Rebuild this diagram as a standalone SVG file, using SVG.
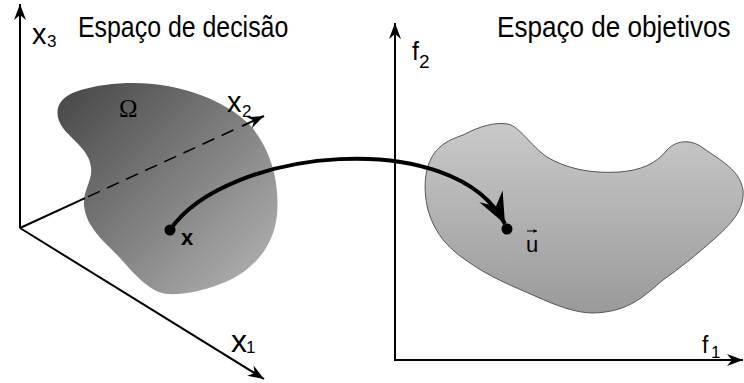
<svg xmlns="http://www.w3.org/2000/svg" width="744" height="383" viewBox="0 0 744 383">
  <defs>
    <linearGradient id="gLeft" gradientUnits="userSpaceOnUse" x1="70" y1="90" x2="270" y2="290">
      <stop offset="0" stop-color="#4a4a4a"/>
      <stop offset="1" stop-color="#b4b4b4"/>
    </linearGradient>
    <linearGradient id="gRight" gradientUnits="userSpaceOnUse" x1="0" y1="124" x2="0" y2="313">
      <stop offset="0" stop-color="#c9c9c9"/>
      <stop offset="1" stop-color="#9a9a9a"/>
    </linearGradient>
    <marker id="axisHead" markerUnits="userSpaceOnUse" markerWidth="24" markerHeight="16" viewBox="-18 -8 20 16" refX="0" refY="0" orient="auto" overflow="visible">
      <path d="M0,0 L-16,-6 L-11,0 L-16,6 Z" fill="#000"/>
    </marker>
    <marker id="mapHead" markerUnits="userSpaceOnUse" markerWidth="36" markerHeight="30" viewBox="-32 -15 34 30" refX="0" refY="0" orient="auto" overflow="visible">
      <path d="M0,0 L-31,-13 L-20,0 L-31,13 Z" fill="#000"/>
    </marker>
    <marker id="vecHead" markerUnits="userSpaceOnUse" markerWidth="6" markerHeight="6" viewBox="-4 -3 5 6" refX="0" refY="0" orient="auto" overflow="visible">
      <path d="M0,0 L-3.5,-2 L-3.5,2 Z" fill="#000"/>
    </marker>
    <style>
      .axis { stroke:#000; stroke-width:2; fill:none; }
      .dash { stroke:#000; stroke-width:1.5; fill:none; stroke-dasharray:13 8; }
      text { font-family:'Liberation Sans', Arial, sans-serif; fill:#000; }
    </style>
  </defs>

  <!-- Decision space blob -->
  <g id="omega">
    <path d="M133,83 C180,83 225,100 250,125 C270,148 280,180 277,215 C274,245 255,268 230,280 C205,291 185,295 167,294 C150,292 135,275 120,258 C105,242 86,228 84,205 C83,190 93,180 91,167 C89,150 72,140 63,128 C52,113 58,98 75,92 C95,85 115,83 133,83 Z" fill="url(#gLeft)"/>
    <text x="119" y="117" style="font-family:'Liberation Serif', 'Times New Roman', serif" font-size="25">Ω</text>
  </g>

  <!-- Objective space blob -->
  <g id="objective-region">
    <path d="M463,135 C480,126 495,122 508,124 C520,127 530,145 547,157 C565,168 590,174 620,172 C640,170 655,165 667,150 C675,141 690,138 703,148 C720,160 740,170 743,190 C745,210 730,225 713,240 C695,256 680,268 663,280 C645,295 630,312 593,313 C575,313 555,305 535,296 C510,285 490,277 470,263 C450,250 435,235 428,210 C422,185 425,160 440,147 C448,140 455,138 463,135 Z" fill="url(#gRight)" stroke="#555" stroke-width="1"/>
  </g>

  <!-- Axes -->
  <g id="decision-axes">
    <line class="axis" x1="20" y1="228" x2="20" y2="4" marker-end="url(#axisHead)"/>
    <line class="axis" x1="20" y1="228" x2="264" y2="379" marker-end="url(#axisHead)"/>
    <line class="axis" x1="20" y1="228" x2="85" y2="198.2"/>
    <line class="dash" x1="88" y1="196.8" x2="240" y2="127"/>
    <line class="axis" x1="242" y1="126.1" x2="264" y2="116" marker-end="url(#axisHead)"/>
    <text x="32" y="44" font-size="29">x<tspan x="47" y="47" font-size="17">3</tspan></text>
    <text x="227" y="112" font-size="29">x<tspan x="242" y="117" font-size="17">2</tspan></text>
    <text x="231" y="352" font-size="32">x<tspan x="246" y="353" font-size="17">1</tspan></text>
  </g>

  <g id="objective-axes">
    <line class="axis" x1="395" y1="361" x2="395" y2="23" marker-end="url(#axisHead)"/>
    <line class="axis" x1="394" y1="360" x2="743" y2="360" marker-end="url(#axisHead)"/>
    <text x="412" y="60" font-size="25">f<tspan x="419" y="68" font-size="19">2</tspan></text>
    <text x="702" y="353" font-size="23">f<tspan x="711" y="358" font-size="17">1</tspan></text>
  </g>

  <!-- Titles -->
  <g id="titles">
    <text transform="translate(78,37) scale(0.83,1)" font-size="30">Espaço de decisão</text>
    <text transform="translate(497,37) scale(0.87,1)" font-size="30">Espaço de objetivos</text>
  </g>

  <!-- Mapping connector -->
  <g id="connectors">
    <path d="M170,230 C225,148 455,125 505,224" fill="none" stroke="#000" stroke-width="4" marker-end="url(#mapHead)"/>
  </g>

  <g id="point-x">
    <circle cx="170" cy="230" r="5.5" fill="#000"/>
    <text x="181" y="245" font-size="22" font-weight="bold">x</text>
  </g>

  <g id="point-u">
    <circle cx="507" cy="229" r="5.5" fill="#000"/>
    <text x="526" y="252" font-size="22">u</text>
    <line x1="527" y1="231" x2="537" y2="231" stroke="#000" stroke-width="1" marker-end="url(#vecHead)"/>
  </g>
</svg>
